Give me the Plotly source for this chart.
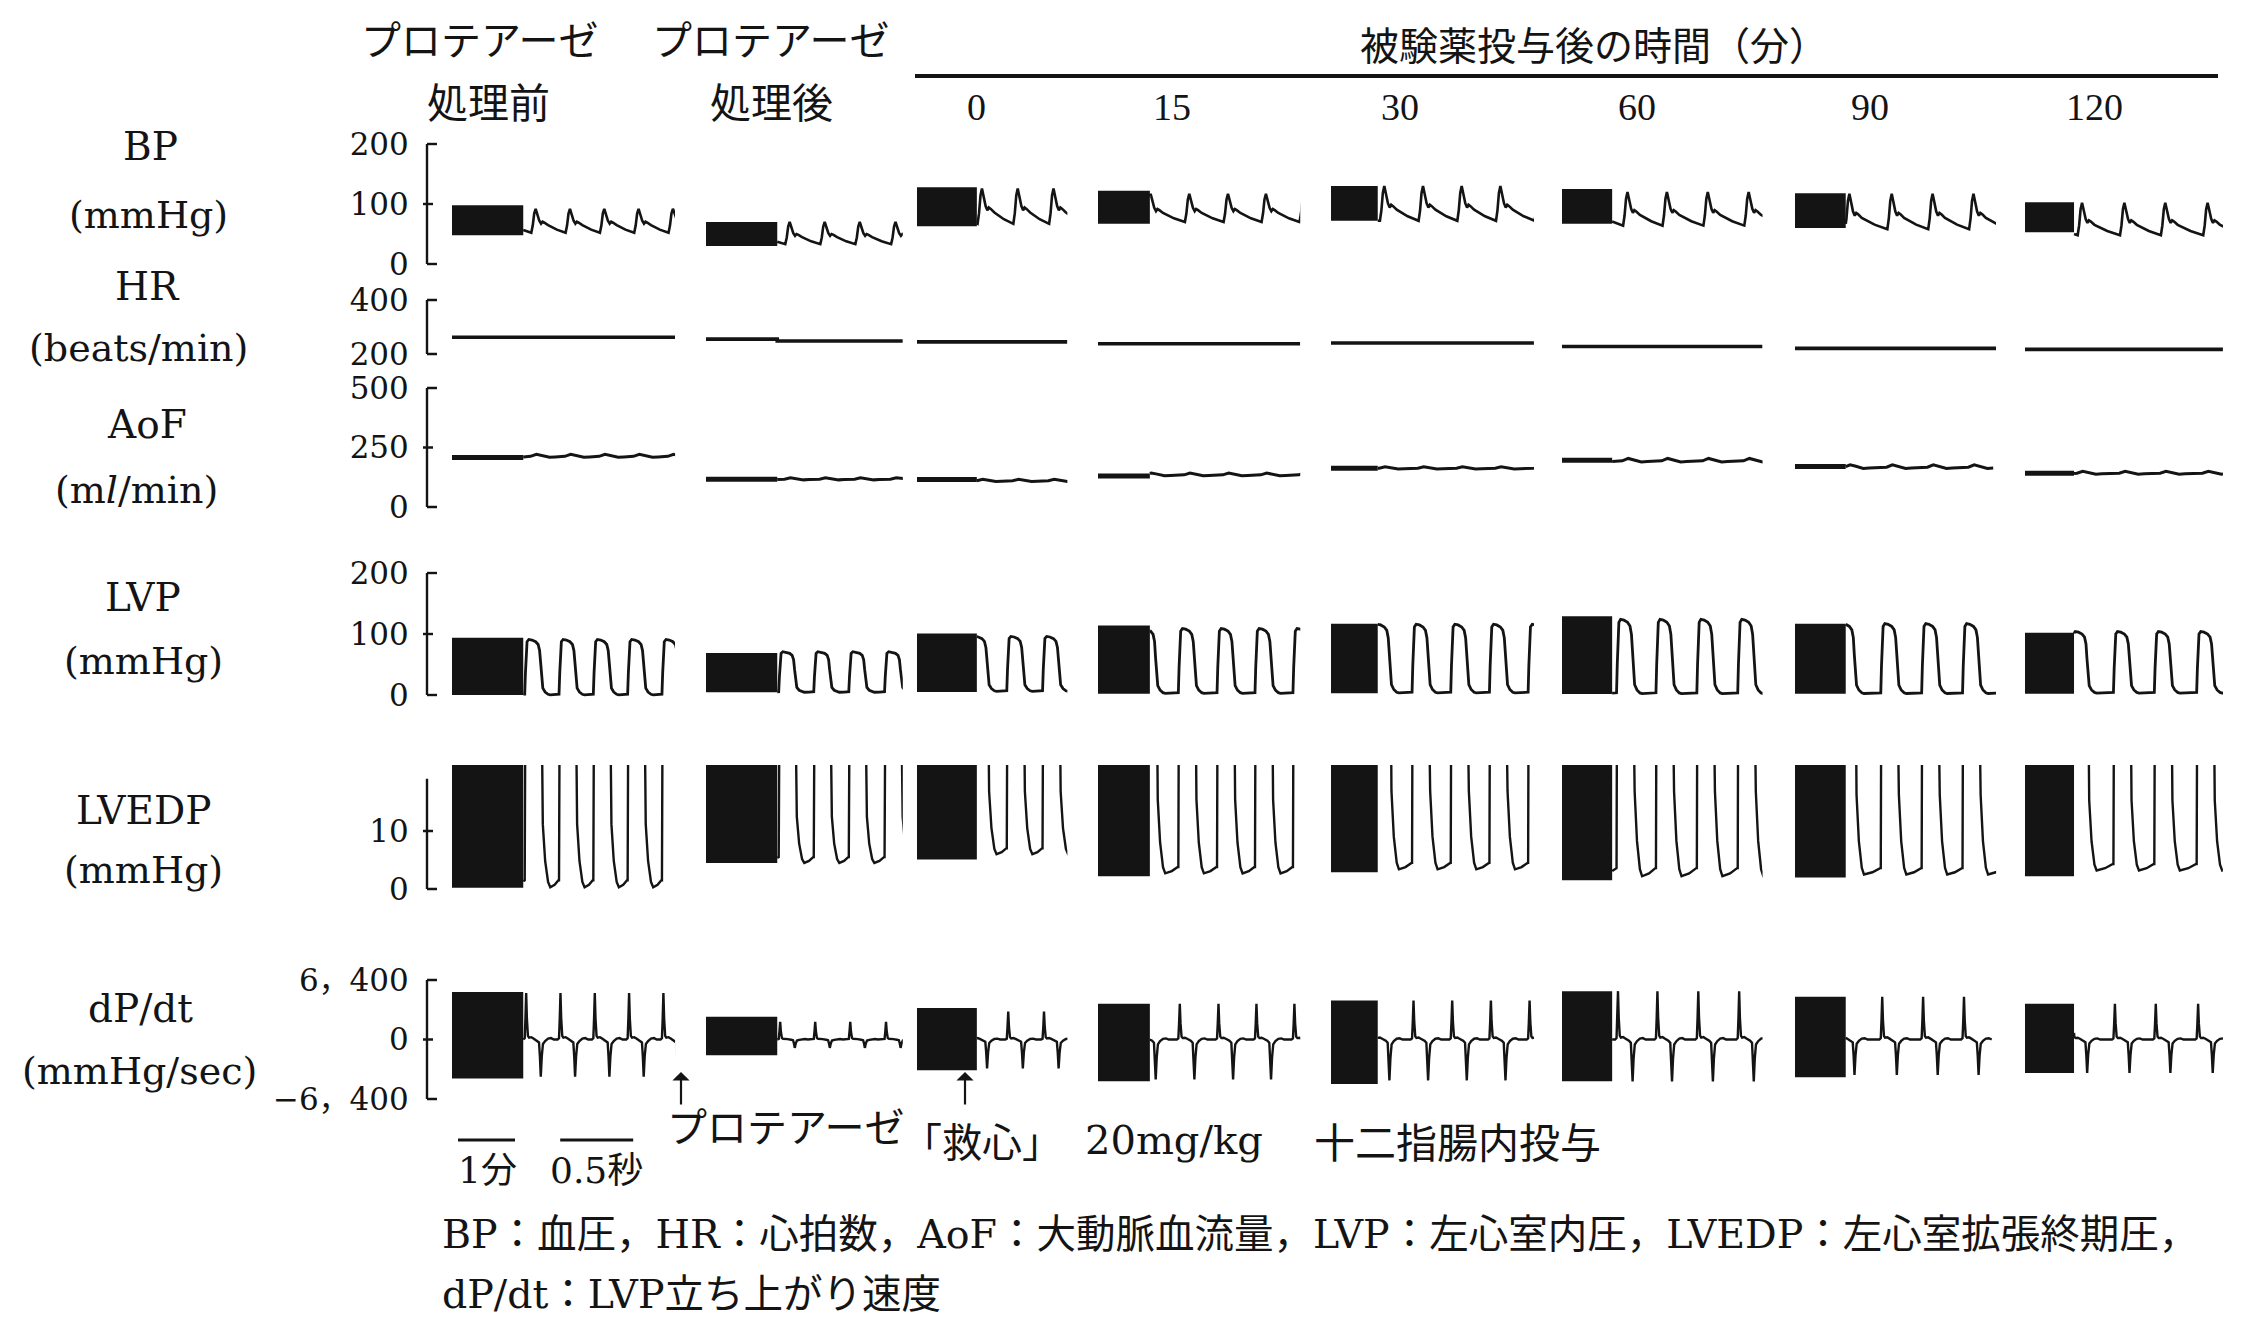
import numpy as np
import plotly.graph_objects as go

W, H = 2245, 1318

# ---------------------------------------------------------------- data
col_titles = ["処理前", "処理後", "0", "15", "30", "60", "90", "120"]

# compressed (slow speed) segment length in minutes, fast segment length in seconds
block_min = [1.25, 1.25, 1.05, 0.91, 0.82, 0.88, 0.89, 0.86]
trace_sec = [1.04, 0.86, 0.62, 1.03, 1.07, 1.03, 1.03, 1.02]

# LV upstroke times inside the fast segment (s after the compressed segment)
beat_times = [
    [-0.225, 0.01, 0.245, 0.48, 0.715, 0.95],
    [-0.23, 0.01, 0.25, 0.49, 0.735],
    [-0.285, -0.04, 0.205, 0.45],
    [-0.07, 0.195, 0.46, 0.72, 0.98],
    [-0.03, 0.235, 0.50, 0.765, 1.03],
    [-0.245, 0.03, 0.30, 0.58, 0.86],
    [-0.32, -0.05, 0.24, 0.52, 0.80],
    [-0.30, -0.02, 0.27, 0.55, 0.84],
]

# BP (mmHg)
bp_block_hi = [98, 70, 128, 122, 130, 125, 118, 103]
bp_block_lo = [48, 30, 63, 67, 72, 67, 60, 53]
bp_sys = [92, 70, 126, 117, 130, 120, 117, 102]
bp_dia = [52, 33, 67, 70, 72, 64, 58, 48]

# HR (beats/min): compressed segment, fast segment
hr_block = [262, 255, 245, 238, 241, 228, 221, 217]
hr_trace = [262, 248, 245, 238, 241, 228, 221, 217]

# AoF (ml/min)
aof_block = [208, 117, 116, 130, 163, 196, 170, 142]
aof_trace = [213, 117, 110, 135, 163, 194, 167, 142]
aof_ripple = [8, 6, 6, 8, 6, 10, 10, 8]

# LVP (mmHg); the LVEDP channel is the same pressure at high gain
lvp_block_hi = [94, 69, 101, 114, 117, 129, 117, 102]
lvp_block_lo = [0.2, 4.5, 5.1, 2.2, 2.9, 1.5, 2.0, 2.2]
lvp_sys = [91, 71, 96, 109, 116, 124, 117, 104]
lvp_min = [0.3, 4.5, 6.0, 2.7, 3.4, 2.2, 2.5, 3.2]
lvp_edp = [1.5, 5.5, 7.0, 3.8, 4.5, 3.6, 3.6, 4.3]

# dP/dt (mmHg/sec)
dp_block_hi = [5100, 2450, 3400, 3850, 4200, 5200, 4600, 3850]
dp_block_lo = [-4200, -1700, -3300, -4500, -4800, -4500, -4050, -3600]
dp_pos = [5000, 1900, 3000, 3850, 4200, 5200, 4600, 3850]
dp_neg = [-4000, -900, -3100, -4300, -4400, -4500, -3800, -3600]

# normalised single-beat shapes, time in s from the LV upstroke
LVP_T = [0.000, 0.005, 0.010, 0.016, 0.028, 0.050, 0.075, 0.092, 0.102, 0.109, 0.116, 0.124, 0.140, 0.160, 0.175]
LVP_V = [0.00, 0.40, 0.80, 0.96, 1.00, 0.99, 0.96, 0.91, 0.80, 0.55, 0.25, 0.12, 0.05, 0.01, 0.00]
BP_T = [0.045, 0.055, 0.065, 0.075, 0.085, 0.100, 0.112, 0.122, 0.135, 0.160]
BP_V = [0.00, 0.30, 0.80, 1.00, 0.80, 0.50, 0.38, 0.46, 0.42, 0.32]
BP_TAIL = 0.13
DP_T = [-0.010, 0.000, 0.005, 0.010, 0.015, 0.022, 0.030, 0.045, 0.060, 0.085, 0.098, 0.104, 0.110,
        0.117, 0.125, 0.140, 0.160, 0.180, 0.200]
DP_V = [0.00, 0.03, 0.45, 1.00, 0.45, 0.08, 0.04, 0.05, 0.02, -0.03, -0.08, -0.45, -1.00,
        -0.45, -0.12, -0.04, 0.02, 0.03, 0.00]
AOF_T = [0.00, 0.04, 0.08, 0.12, 0.17, 0.21]
AOF_V = [-0.3, 0.0, 1.0, 0.4, -0.5, -0.3]

row_names = ["BP", "HR", "AoF", "LVP", "LVEDP", "dP/dt"]
row_units = ["(mmHg)", "(beats/min)", "(m<i>l</i>/min)", "(mmHg)", "(mmHg)", "(mmHg/sec)"]
row_ticks = [[0, 100, 200], [200, 400], [0, 250, 500], [0, 100, 200], [0, 10], [-6400, 0, 6400]]
row_ticktext = [["0", "100", "200"], ["200", "400"], ["0", "250", "500"], ["0", "100", "200"],
                ["0", "10"], ["−6，400", "0", "6，400"]]
row_axis_span = [(0, 200), (200, 400), (0, 500), (0, 200), (0, 19), (-6400, 6400)]

# ---------------------------------------------------------------- layout geometry (px)
SLOW_PX_PER_MIN = 57
FAST_PX_PER_S = 146
col_left_px = [452, 706, 917, 1098, 1331, 1562, 1795, 2025]
AXIS_PX = 427
# (value, px) calibration pairs and visible value window for each row
row_cal = [((0, 264), (200, 144)), ((200, 354), (400, 300)), ((0, 507), (500, 388)),
           ((0, 695), (200, 573)), ((0, 889), (10, 831)), ((-6400, 1099), (6400, 980))]
row_window = [(-10, 210), (190, 410), (-10, 510), (-10, 210), (-1.5, 21.4), (-6800, 6800)]

INK = "#141414"
SERIF = "DejaVu Serif, Noto Sans CJK JP"
NUM = "Liberation Serif, Noto Sans CJK JP"
JP = "Noto Sans CJK JP"


def px_of(r, val):
    (va, pa), (vb, pb) = row_cal[r]
    return pa + (val - va) * (pb - pa) / (vb - va)


def block_width(c):
    return block_min[c] * SLOW_PX_PER_MIN / FAST_PX_PER_S


def next_times(times):
    step = times[-1] - times[-2]
    return list(times[1:]) + [times[-1] + step]


def from_zero(t, v):
    t = np.asarray(t, float)
    v = np.asarray(v, float)
    order = np.argsort(t, kind="stable")
    t, v = t[order], v[order]
    v0 = np.interp(0.0, t, v)
    keep = t > 0
    return np.r_[0.0, t[keep]], np.r_[v0, v[keep]]


def lvp_series(c):
    lo, edp, top = lvp_min[c], lvp_edp[c], lvp_sys[c]
    t, v = [], []
    for s, n in zip(beat_times[c], next_times(beat_times[c])):
        for dt, f in zip(LVP_T, LVP_V):
            t.append(s + dt)
            v.append(edp if dt == 0 else lo + (top - lo) * f)
        end = s + LVP_T[-1]
        t += [(end + n) / 2, n - 0.004]
        v += [lo + 0.35 * (edp - lo), edp]
    return from_zero(t, v)


def bp_series(c):
    dia, top = bp_dia[c], bp_sys[c]
    t, v = [], []
    for s, n in zip(beat_times[c], next_times(beat_times[c])):
        for dt, f in zip(BP_T, BP_V):
            t.append(s + dt)
            v.append(dia + (top - dia) * f)
        t.append((s + BP_T[-1] + n + BP_T[0]) / 2)
        v.append(dia + (top - dia) * BP_TAIL)
    return from_zero(t, v)


def dp_series(c):
    t, v = [], []
    for s in beat_times[c]:
        for dt, f in zip(DP_T, DP_V):
            t.append(s + dt)
            v.append(f * dp_pos[c] if f >= 0 else -f * dp_neg[c])
    return from_zero(t, v)


def aof_series(c):
    t, v = [], []
    for s in beat_times[c]:
        for dt, f in zip(AOF_T, AOF_V):
            t.append(s + dt)
            v.append(aof_trace[c] + aof_ripple[c] * f)
    return from_zero(t, v)


fig = go.Figure()


def ax_id(prefix, i):
    return prefix if i == 0 else f"{prefix}{i + 1}"


def add_block(c, r, lo, hi):
    bw = block_width(c)
    fig.add_trace(go.Bar(x=[-bw / 2], y=[hi - lo], base=[lo], width=[bw],
                         marker=dict(color=INK, line=dict(width=0)),
                         xaxis=ax_id("x", c), yaxis=ax_id("y", r), hoverinfo="skip"))


def add_line(c, r, x, y, width=2.6):
    fig.add_trace(go.Scatter(x=x, y=y, mode="lines", line=dict(color=INK, width=width),
                             xaxis=ax_id("x", c), yaxis=ax_id("y", r), hoverinfo="skip"))


for c in range(8):
    bw = block_width(c)
    # BP
    add_block(c, 0, bp_block_lo[c], bp_block_hi[c])
    add_line(c, 0, *bp_series(c))
    # HR
    add_line(c, 1, [-bw, 0, 0, trace_sec[c]], [hr_block[c], hr_block[c], hr_trace[c], hr_trace[c]], 3.6)
    # AoF
    add_line(c, 2, [-bw, 0], [aof_block[c], aof_block[c]], 5)
    add_line(c, 2, *aof_series(c), 3)
    # LVP and LVEDP
    lt, lv = lvp_series(c)
    add_block(c, 3, lvp_block_lo[c], lvp_block_hi[c])
    add_line(c, 3, lt, lv, 2.8)
    add_block(c, 4, lvp_block_lo[c], lvp_block_hi[c])
    add_line(c, 4, lt, lv, 2.4)
    # dP/dt
    add_block(c, 5, dp_block_lo[c], dp_block_hi[c])
    add_line(c, 5, *dp_series(c), 2.4)

layout = dict(width=W, height=H, autosize=False,
              margin=dict(l=0, r=0, t=0, b=0, pad=0, autoexpand=False),
              paper_bgcolor="white", plot_bgcolor="rgba(0,0,0,0)", showlegend=False,
              barmode="overlay", hovermode=False, font=dict(family=SERIF, color=INK))

for c in range(8):
    bw = block_width(c)
    left = col_left_px[c]
    right = left + block_min[c] * SLOW_PX_PER_MIN + trace_sec[c] * FAST_PX_PER_S
    layout["xaxis" if c == 0 else f"xaxis{c + 1}"] = dict(
        domain=[left / W, right / W], range=[-bw, trace_sec[c]], visible=False,
        automargin=False, fixedrange=True)

for r in range(6):
    lo, hi = row_window[r]
    layout["yaxis" if r == 0 else f"yaxis{r + 1}"] = dict(
        domain=[1 - px_of(r, lo) / H, 1 - px_of(r, hi) / H], range=[lo, hi],
        anchor="free", position=AXIS_PX / W, side="left", automargin=False,
        tickvals=row_ticks[r], ticktext=row_ticktext[r],
        ticks="outside", ticklen=12, tickcolor="rgba(0,0,0,0)",
        tickfont=dict(family=SERIF, size=31, color=INK),
        showgrid=False, zeroline=False, showline=False, fixedrange=True)

fig.update_layout(**layout)

# scale rulers for each channel
shapes = []
for r in range(6):
    yref = ax_id("y", r)
    a, b = row_axis_span[r]
    shapes.append(dict(type="line", xref="paper", yref=yref, x0=AXIS_PX / W, x1=AXIS_PX / W,
                       y0=a, y1=b, line=dict(color=INK, width=2.4)))
    for tv in row_ticks[r]:
        at_end = tv in (a, b)
        x0 = AXIS_PX if at_end else AXIS_PX - 4
        x1 = AXIS_PX + 10 if at_end else AXIS_PX + 6
        shapes.append(dict(type="line", xref="paper", yref=yref, x0=x0 / W, x1=x1 / W,
                           y0=tv, y1=tv, line=dict(color=INK, width=2.4)))

# rule under the time heading
shapes.append(dict(type="line", xref="paper", yref="paper", x0=915 / W, x1=2218 / W,
                   y0=1 - 76 / H, y1=1 - 76 / H, line=dict(color=INK, width=4)))

# time-scale bars: 1 min (slow speed) and 0.5 s (fast speed), on the first column's axis
bar_y = 1 - 1140 / H
min_bar_start = -block_width(0) + 6 / FAST_PX_PER_S
shapes.append(dict(type="line", xref="x", yref="paper", x0=min_bar_start,
                   x1=min_bar_start + 1.0 * SLOW_PX_PER_MIN / FAST_PX_PER_S,
                   y0=bar_y, y1=bar_y, line=dict(color=INK, width=3)))
sec_bar_start = 0.253
shapes.append(dict(type="line", xref="x", yref="paper", x0=sec_bar_start, x1=sec_bar_start + 0.5,
                   y0=bar_y, y1=bar_y, line=dict(color=INK, width=3)))

fig.update_layout(shapes=shapes)

ann = []


def text(s, x, y, size, family=SERIF, xanchor="center"):
    ann.append(dict(text=s, x=x / W, y=1 - y / H, xref="paper", yref="paper", showarrow=False,
                    xanchor=xanchor, yanchor="middle", font=dict(family=family, size=size, color=INK)))


# column headings
text("プロテアーゼ", 480, 38, 40, JP)
text("プロテアーゼ", 771, 38, 40, JP)
text(col_titles[0], 488, 100, 41, JP)
text(col_titles[1], 771, 100, 41, JP)
text("被験薬投与後の時間（分）", 1594, 43, 39, JP)
for label, xc in zip(col_titles[2:], [976, 1172, 1400, 1637, 1870, 2094]):
    text(label, xc, 107, 38, NUM)

# channel names
name_pos = [(150, 147, 148, 215), (147, 286, 138, 348), (147, 425, 136, 490),
            (143, 598, 143, 661), (143, 810, 143, 870), (140, 1008, 139, 1071)]
for r, (xn, yn, xu, yu) in enumerate(name_pos):
    text(row_names[r], xn, yn, 39)
    text(row_units[r], xu, yu, 38)

# dosing marks
for xa in (681, 965):
    ann.append(dict(text="", x=xa / W, y=1 - 1072 / H, xref="paper", yref="paper",
                    showarrow=True, ax=0, ay=34, arrowhead=1, arrowsize=1.3, arrowwidth=2.2,
                    arrowcolor=INK))
text("プロテアーゼ", 786, 1125, 40, JP)
text("「救心」", 900, 1140, 40, JP, "left")
text("20mg/kg", 1083, 1140, 40, SERIF, "left")
text("十二指腸内投与", 1312, 1140, 41, JP, "left")

# scale-bar labels
text("1分", 487, 1170, 36)
text("0.5秒", 597, 1170, 36)

# abbreviations
text("BP：血圧，HR：心拍数，AoF：大動脈血流量，LVP：左心室内圧，LVEDP：左心室拡張終期圧，",
     440, 1234, 39.5, SERIF, "left")
text("dP/dt：LVP立ち上がり速度", 440, 1294, 39.5, SERIF, "left")

fig.update_layout(annotations=ann)

fig.write_html("out.html")
